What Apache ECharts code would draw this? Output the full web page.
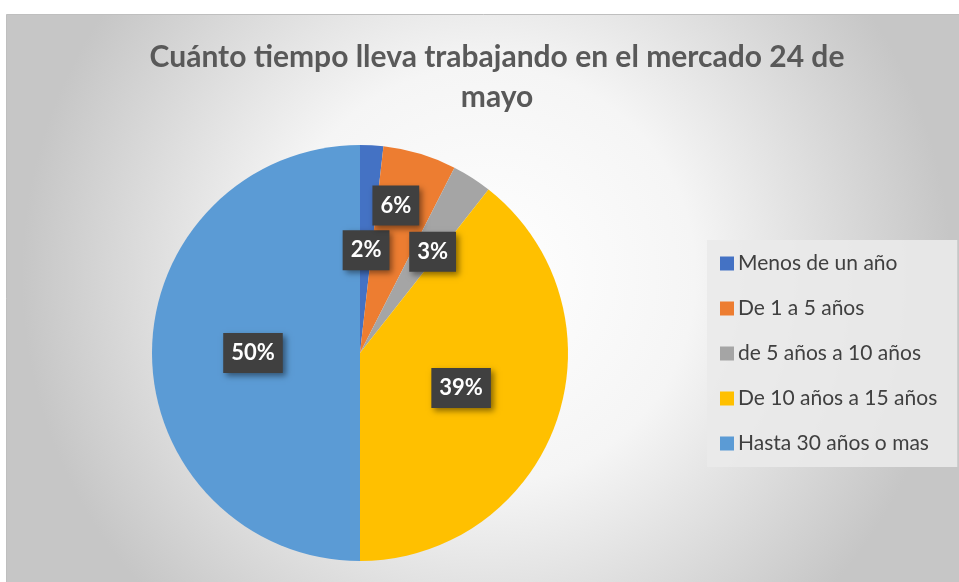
<!DOCTYPE html>
<html>
<head>
<meta charset="utf-8">
<script src="https://cdn.jsdelivr.net/npm/echarts@6/dist/echarts.min.js"></script>
<style>
  html, body { margin: 0; padding: 0; background: #fff; }
  #pie-chart { width: 959px; height: 582px; }
</style>
</head>
<body>
<div id="pie-chart"></div>
<script>
// categorias y porcentajes
var categories = ['Menos de un año', 'De 1 a 5 años', 'de 5 años a 10 años', 'De 10 años a 15 años', 'Hasta 30 años o mas']
var values = [1.8, 5.7, 3.1, 39.4, 50.0]
var colors = ['#4472C4', '#ED7D31', '#A5A5A5', '#FFC000', '#5B9BD5']

// Excel movio las etiquetas pequenas para que no se encimen
var labelOffsets = [[0, 4], [5, -45], [15, -11], [0, 0], [0, 0]]

var chart = echarts.init(document.getElementById('pie-chart'))

var pieData = []
for (var i = 0; i < categories.length; i++) {
  pieData.push({
    name: categories[i],
    value: values[i],
    itemStyle: { color: colors[i] },
    label: { offset: labelOffsets[i] }
  })
}

var option = {
  backgroundColor: '#ffffff',
  graphic: [
    {
      type: 'rect',
      left: 6,
      top: 14,
      z: -10,
      shape: { width: 960, height: 580 },
      style: {
        fill: {
          type: 'radial',
          x: 0.5, y: 0.45, r: 0.8,
          colorStops: [
            { offset: 0, color: '#ffffff' },
            { offset: 0.45, color: '#f5f5f5' },
            { offset: 1, color: '#c6c6c6' }
          ]
        },
        stroke: '#bfbfbf',
        lineWidth: 1
      }
    }
  ],
  title: {
    text: 'Cuánto tiempo lleva trabajando en el mercado 24 de\nmayo',
    left: 492,
    textAlign: 'center',
    top: 32,
    textStyle: {
      fontFamily: 'Lato',
      fontSize: 30,
      fontWeight: 'bold',
      color: '#595959',
      lineHeight: 40
    }
  },
  legend: {
    orient: 'vertical',
    left: 707,
    top: 240,
    padding: [13, 20, 13, 13],
    backgroundColor: 'rgba(234,234,234,0.9)',
    icon: 'rect',
    itemWidth: 14,
    itemHeight: 14,
    itemGap: 24,
    data: categories,
    textStyle: {
      fontFamily: 'Lato',
      fontSize: 21,
      color: '#404040',
      padding: [0, 0, 0, -1]
    }
  },
  series: [
    {
      type: 'pie',
      center: [360, 353],
      radius: 208,
      startAngle: 90,
      clockwise: true,
      percentPrecision: 0,
      avoidLabelOverlap: false,
      label: {
        show: true,
        position: 'inside',
        formatter: '{d}%',
        fontFamily: 'Lato',
        fontSize: 22,
        fontWeight: 'bold',
        color: '#ffffff',
        backgroundColor: '#404040',
        padding: [10, 8, 8, 8],
        shadowColor: 'rgba(0,0,0,0.45)',
        shadowBlur: 6,
        shadowOffsetX: 3,
        shadowOffsetY: 3
      },
      labelLine: { show: false },
      emphasis: { scale: false },
      data: pieData
    }
  ]
}

chart.setOption(option)
</script>
</body>
</html>
